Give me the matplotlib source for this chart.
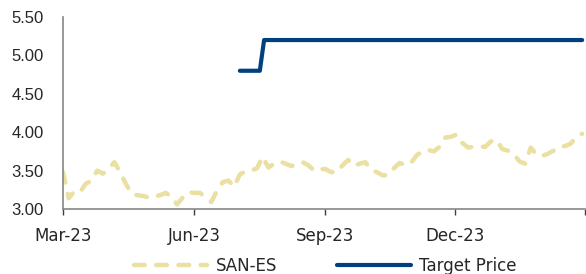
import pandas as pd
import matplotlib
matplotlib.use("Agg")
import matplotlib.pyplot as plt

# SAN-ES close, sampled every 4 days from 1 Mar 2023
san_start = "2023-03-01"
san_values = [
    3.48, 3.14, 3.23, 3.22, 3.33, 3.37, 3.50, 3.46, 3.52, 3.61,
    3.48, 3.33, 3.20, 3.18, 3.17, 3.15, 3.16, 3.18, 3.21, 3.16,
    3.06, 3.15, 3.22, 3.21, 3.21, 3.15, 3.09, 3.24, 3.35, 3.37,
    3.29, 3.45, 3.49, 3.50, 3.53, 3.68, 3.54, 3.59, 3.62, 3.59,
    3.56, 3.58, 3.61, 3.57, 3.50, 3.52, 3.52, 3.48, 3.48, 3.57,
    3.64, 3.56, 3.59, 3.61, 3.51, 3.48, 3.44, 3.44, 3.53, 3.60,
    3.57, 3.60, 3.70, 3.75, 3.77, 3.75, 3.81, 3.93, 3.94, 3.97,
    3.86, 3.80, 3.81, 3.81, 3.81, 3.88, 3.90, 3.78, 3.76, 3.72,
    3.62, 3.59, 3.80, 3.71, 3.69, 3.72, 3.76, 3.81, 3.82, 3.85,
    3.94, 3.98,
]
san_dates = pd.date_range(san_start, periods=len(san_values), freq="4D")

# target price
tp_dates = pd.to_datetime(["2023-07-03", "2023-07-17", "2023-07-20", "2024-02-28"])
tp_values = [4.80, 4.80, 5.20, 5.20]

x_ticks = pd.to_datetime(["2023-03-01", "2023-06-01", "2023-09-01", "2023-12-01", "2024-03-01"])
x_labels = ["Mar-23", "Jun-23", "Sep-23", "Dec-23", ""]
y_ticks = [3.00, 3.50, 4.00, 4.50, 5.00, 5.50]

SAN_COLOR = "#EAE0A2"
TP_COLOR = "#00407F"
AXIS_COLOR = "#868686"

fig = plt.figure(figsize=(5.86, 2.74), dpi=100)
ax = fig.add_axes([63 / 586, 1 - 209 / 274, (585 - 63) / 586, (209 - 17) / 274])

ax.plot(san_dates, san_values, color=SAN_COLOR, lw=3.2, dashes=(2.4, 2.6),
        dash_capstyle="round", solid_capstyle="round", label="SAN-ES")
ax.plot(tp_dates, tp_values, color=TP_COLOR, lw=3.0,
        solid_capstyle="round", solid_joinstyle="round", label="Target Price")

ax.set_xlim(x_ticks[0], x_ticks[-1])
ax.set_ylim(3.0, 5.5)
ax.set_xticks(x_ticks)
ax.set_xticklabels(x_labels)
ax.set_yticks(y_ticks)
ax.set_yticklabels([f"{v:.2f}" for v in y_ticks])

for s in ["top", "right"]:
    ax.spines[s].set_visible(False)
for s in ["left", "bottom"]:
    ax.spines[s].set_color(AXIS_COLOR)
    ax.spines[s].set_linewidth(1.2)

ax.tick_params(axis="x", direction="out", length=4, width=1, color="#404040",
               pad=9, labelsize=12, labelcolor="#262626")
ax.tick_params(axis="y", length=0, pad=14, labelsize=12, labelcolor="#262626")
for lab in ax.get_yticklabels():
    lab.set_fontfamily("Liberation Sans")
for lab in ax.get_xticklabels():
    lab.set_fontfamily("DejaVu Sans")

leg = fig.legend(loc="center", bbox_to_anchor=(0.555, 0.03), ncol=2, frameon=False,
                 handlelength=4.4, handletextpad=0.5, columnspacing=3.6,
                 prop={"family": "DejaVu Sans", "size": 12})
for t in leg.get_texts():
    t.set_color("#262626")

fig.savefig("out.png", dpi=100)
